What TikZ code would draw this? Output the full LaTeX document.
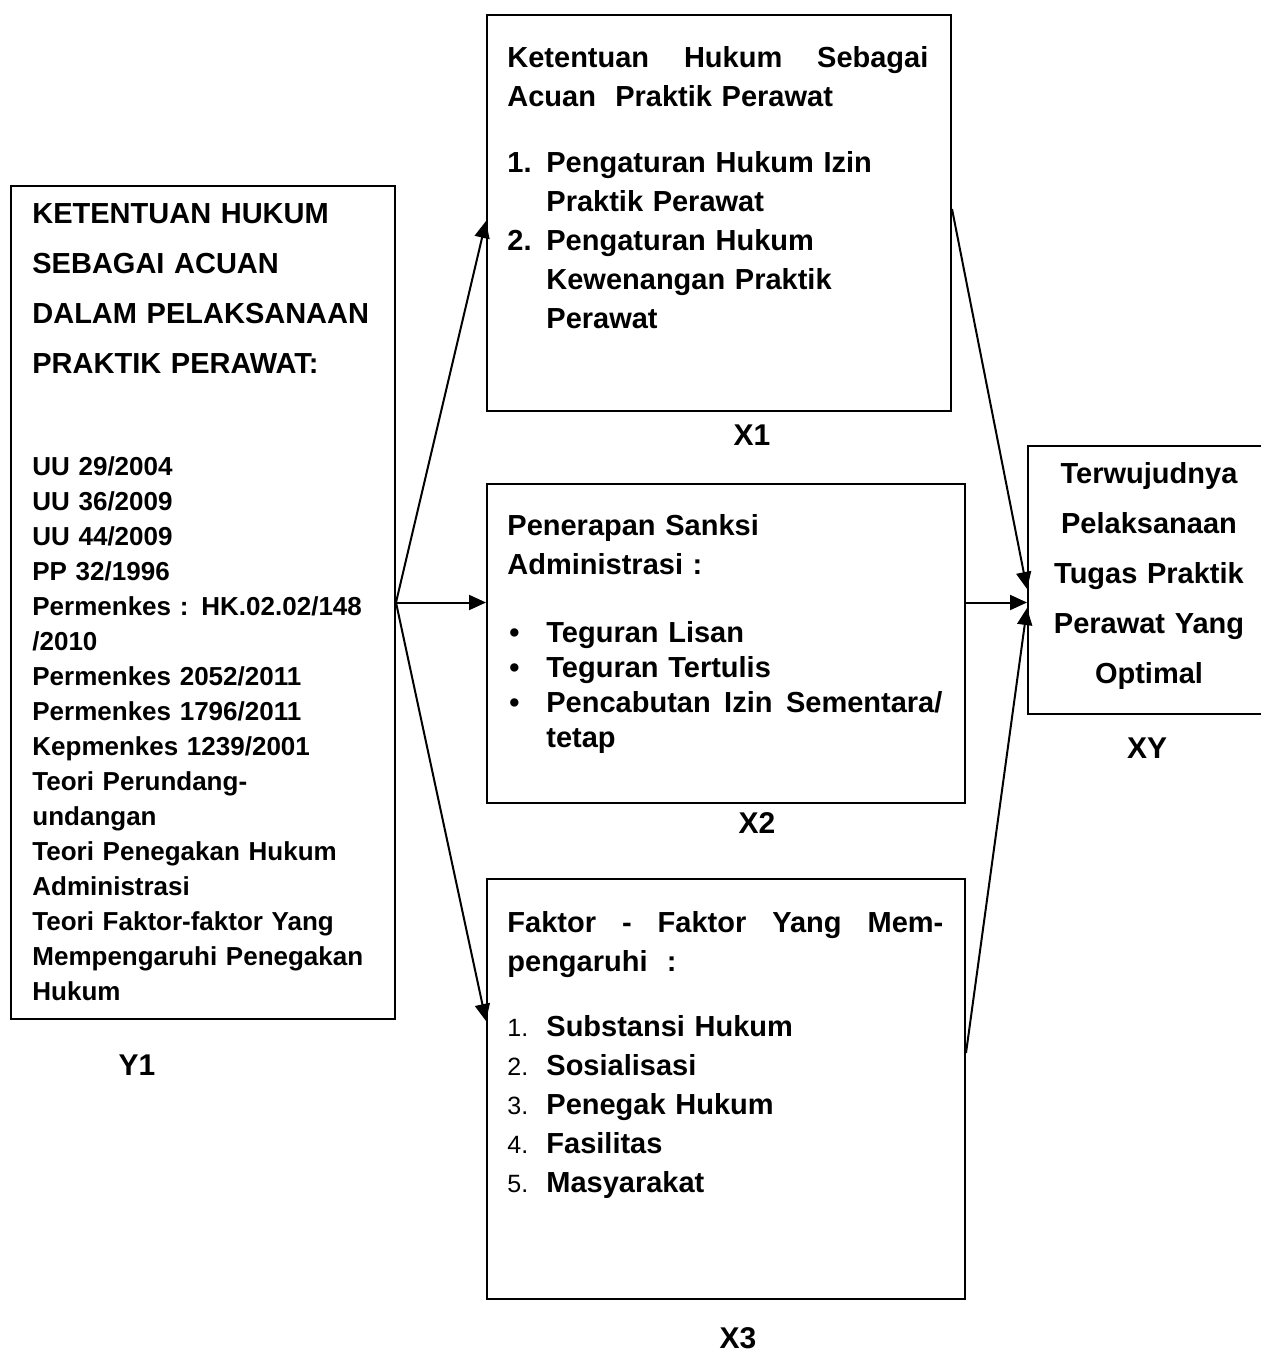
\documentclass[tikz,border=0pt]{standalone}
\usepackage{fontspec}
\setmainfont{Liberation Sans}
\usetikzlibrary{arrows.meta}
\tikzset{
  kotak/.style={draw, line width=1pt, inner sep=0pt, anchor=north west},
  teks/.style={inner sep=0pt, anchor=base west, align=left},
  kode/.style={inner sep=0pt, anchor=base, font=\bfseries\fontsize{15pt}{18pt}\selectfont}
}
\begin{document}
\begin{tikzpicture}[x=0.5pt, y=-0.5pt]
      \useasboundingbox (0,0) rectangle (1260,1352);
      \node[kotak, minimum width=192pt, minimum height=416.5pt] (y1) at (10,185) {};
      \node[kotak, minimum width=232pt, minimum height=198pt] (x1) at (486,14) {};
      \node[kotak, minimum width=239pt, minimum height=159.5pt] (x2) at (486,483) {};
      \node[kotak, minimum width=239pt, minimum height=210pt] (x3) at (486,878) {};
      \node[kotak, minimum width=122pt, minimum height=134pt] (xy) at (1027,445) {};
      \node[teks, text width=185pt, font=\bfseries\fontsize{14.5pt}{25pt}\selectfont] (y1judul) at (32,224)
        {KETENTUAN HUKUM\\SEBAGAI ACUAN\\DALAM PELAKSANAAN\\PRAKTIK PERAWAT:};
      \node[teks, text width=185pt, font=\bfseries\fontsize{13pt}{17.5pt}\selectfont] (y1isi) at (32,475)
        {UU 29/2004\\UU 36/2009\\UU 44/2009\\PP 32/1996\\Permenkes : HK.02.02/148\\/2010\\
         Permenkes 2052/2011\\Permenkes 1796/2011\\Kepmenkes 1239/2001\\Teori Perundang-\\undangan\\
         Teori Penegakan Hukum\\Administrasi\\Teori Faktor-faktor Yang\\Mempengaruhi Penegakan\\Hukum};
      \node[teks, text width=210.5pt, font=\bfseries\fontsize{14.5pt}{19.5pt}\selectfont] (x1isi) at (507,68)
        {Ketentuan\hfill Hukum\hfill Sebagai\\
         Acuan\ \ Praktik Perawat\\[13.5pt]
         \makebox[19.5pt][l]{1.}Pengaturan Hukum Izin\\
         \hspace*{19.5pt}Praktik Perawat\\
         \makebox[19.5pt][l]{2.}Pengaturan Hukum\\
         \hspace*{19.5pt}Kewenangan Praktik\\
         \hspace*{19.5pt}Perawat};
      \node[teks, text width=216.5pt, font=\bfseries\fontsize{14.5pt}{19.5pt}\selectfont] (x2judul) at (507,535)
        {Penerapan Sanksi\\Administrasi :};
      \node[teks, text width=216.5pt, font=\bfseries\fontsize{14.5pt}{17.5pt}\selectfont] (x2isi) at (509,642)
        {\makebox[18.5pt][l]{\textbullet}Teguran Lisan\\
         \makebox[18.5pt][l]{\textbullet}Teguran Tertulis\\
         \makebox[18.5pt][l]{\textbullet}Pencabutan\hfill Izin\hfill Sementara/\\
         \hspace*{18.5pt}tetap};
      \node[teks, text width=218pt, font=\bfseries\fontsize{14.5pt}{19.5pt}\selectfont] (x3isi) at (507,932)
        {Faktor\hfill -\hfill Faktor\hfill Yang\hfill Mem-\\
         pengaruhi\ \ :\\[13pt]
         \makebox[19.5pt][l]{\mdseries\fontsize{12.5pt}{15pt}\selectfont 1.}Substansi Hukum\\
         \makebox[19.5pt][l]{\mdseries\fontsize{12.5pt}{15pt}\selectfont 2.}Sosialisasi\\
         \makebox[19.5pt][l]{\mdseries\fontsize{12.5pt}{15pt}\selectfont 3.}Penegak Hukum\\
         \makebox[19.5pt][l]{\mdseries\fontsize{12.5pt}{15pt}\selectfont 4.}Fasilitas\\
         \makebox[19.5pt][l]{\mdseries\fontsize{12.5pt}{15pt}\selectfont 5.}Masyarakat};
      \node[inner sep=0pt, anchor=base, text width=115pt, align=center,
            font=\bfseries\fontsize{14.5pt}{25pt}\selectfont] (xyisi) at (1149,483)
        {Terwujudnya\\Pelaksanaan\\Tugas Praktik\\Perawat Yang\\Optimal};
      \node[kode] (ly1) at (137,1075) {Y1};
      \node[kode] (lx1) at (752,445) {X1};
      \node[kode] (lx2) at (757,833) {X2};
      \node[kode] (lx3) at (738,1348) {X3};
      \node[kode] (lxy) at (1147,758) {XY};
      \begin{scope}[-{Triangle[length=8.5pt,width=7.5pt]}, line width=1pt]
        \draw (y1.east) to ([yshift=-4pt]x1.west);
        \draw (y1.east) to (y1.east -| x2.west);
        \draw (y1.east) to ([yshift=34pt]x3.west);
        \draw ([yshift=2pt]x1.east) to ([yshift=-4.5pt]xy.west);
        \draw (y1.east -| x2.east) to (y1.east -| xy.west);
        \draw ([yshift=18pt]x3.east) to ([yshift=-14pt]xy.west);
      \end{scope}
    \end{tikzpicture}
\end{document}
